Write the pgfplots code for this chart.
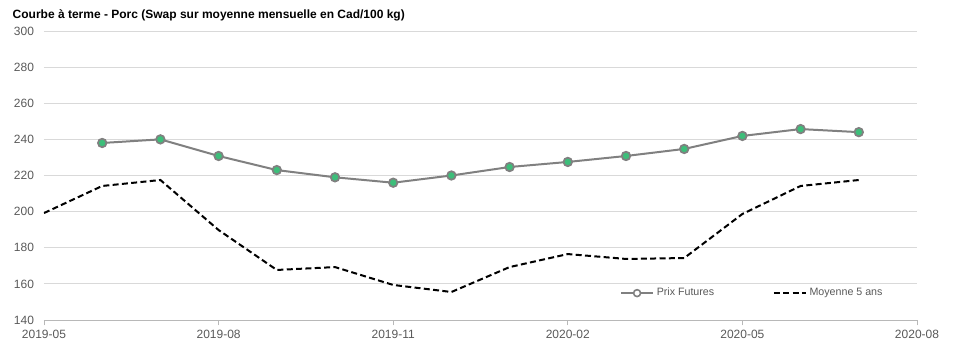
\documentclass[border=0pt]{standalone}
\usepackage{fontspec}
\setmainfont{Liberation Sans}
\usepackage{pgfplots}
\pgfplotsset{compat=1.18}
\definecolor{txt}{HTML}{595959}
\definecolor{gridc}{HTML}{D9D9D9}
\definecolor{fut}{HTML}{808080}
\definecolor{mk}{HTML}{3DBE7A}
\begin{document}
\begin{tikzpicture}
\useasboundingbox (-33pt,-24pt) rectangle (691.5pt,240pt);
\begin{axis}[
  at={(0,0)}, anchor=south west,
  scale only axis, width=654.75pt, height=216.75pt,
  xmin=0, xmax=15, ymin=140, ymax=300,
  xtick={0,3,6,9,12,15},
  xticklabels={2019-05,2019-08,2019-11,2020-02,2020-05,2020-08},
  ytick={140,160,...,300},
  ymajorgrids, grid style={gridc, line width=0.6pt},
  axis x line*=bottom, axis y line*=left,
  y axis line style={draw=none},
  x axis line style={gridc!85!black, line width=0.6pt},
  ytick style={draw=none},
  xtick style={gridc!85!black, line width=0.6pt},
  tick align=outside, major tick length=4pt,
  /pgf/number format/assume math mode=true,
  ticklabel style={font=\fontsize{9}{10}\selectfont, color=txt},
  legend style={at={(0.655,0.093)}, anchor=west, draw=none, fill=none,
    font=\fontsize{8}{9}\selectfont, text=txt, legend columns=2,
    /tikz/every even column/.append style={column sep=42pt}},
  legend image code/.code={\draw[#1] plot coordinates {(0pt,0pt) (12pt,0pt) (24pt,0pt)};},
]
\addlegendimage{fut, line width=1.5pt, mark=*, mark repeat=2, mark phase=2, mark size=2.6pt, mark options={fill=white, draw=fut, line width=1.2pt}}
\addlegendentry{Prix Futures}
\addplot[fut, line width=1.5pt, mark=*, mark size=3.2pt, mark options={fill=mk, draw=fut, line width=1.3pt}, forget plot] coordinates {
(1,238) (2,240) (3,230.8) (4,223) (5,219) (6,216) (7,220) (8,224.7) (9,227.5) (10,230.8) (11,234.7) (12,241.9) (13,245.7) (14,244)};
\addplot[black, line width=1.5pt, dash pattern=on 4.5pt off 2.5pt] coordinates {
(0,199.2) (1,214.2) (2,217.5) (3,189.8) (4,167.7) (5,169.3) (6,159.4) (7,155.5) (8,169.3) (9,176.5) (10,173.8) (11,174.3) (12,198.7) (13,214.2) (14,217.5)};
\addlegendentry{Moyenne 5 ans}
\end{axis}
\node[anchor=base west, font=\bfseries\fontsize{9}{10}\selectfont] at (-27pt,225.75pt) {Courbe à terme - Porc (Swap sur moyenne mensuelle en Cad/100 kg)};
\end{tikzpicture}
\end{document}
